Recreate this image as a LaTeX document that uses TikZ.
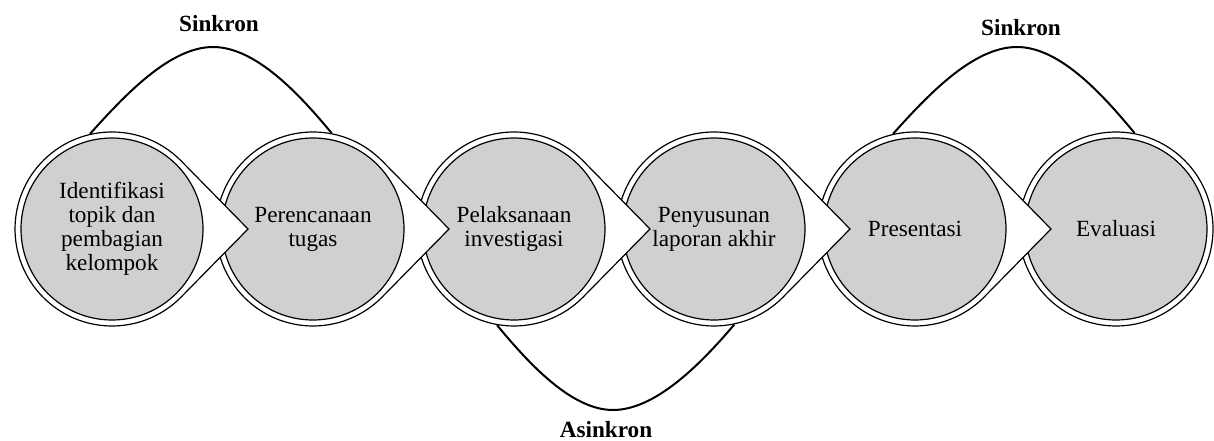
\documentclass[tikz,border=0pt]{standalone}
\usepackage{fontspec}
\setmainfont{Liberation Serif}
\usetikzlibrary{calc}
\definecolor{stepgray}{RGB}{208,208,208}
\begin{document}
\begin{tikzpicture}[x=0.75pt,y=0.75pt,yscale=-1,xscale=1,
  drop/.style={draw, fill=white, line width=0.9pt},
  stepcirc/.style={circle, draw, fill=stepgray, line width=0.9pt, minimum size=136.5pt, inner sep=0pt, align=center, font=\fontsize{17.4}{18}\selectfont},
  link/.style={line width=1.5pt},
  lbl/.style={inner sep=0.75pt, font=\fontsize{17.4}{18}\selectfont\bfseries}]
\useasboundingbox (0,0) rectangle (1214,441);

%Shape: Circle
\draw [drop] (1116,229) circle (97);
% Text Node
\node [stepcirc] (c6) at (1116,229) {Evaluasi};

%Shape: Teardrop
\draw [drop] (1051,229) -- (984.2,161) arc [start angle=-44.5, end angle=-315.5, radius=97] -- cycle;
% Text Node
\node [stepcirc] (c5) at (915,229) {Presentasi};

%Shape: Teardrop
\draw [drop] (850,229) -- (783.2,161) arc [start angle=-44.5, end angle=-315.5, radius=97] -- cycle;
% Text Node
\node [stepcirc] (c4) at (714,229) {Penyusunan\\laporan akhir};

%Shape: Teardrop
\draw [drop] (650,229) -- (583.2,161) arc [start angle=-44.5, end angle=-315.5, radius=97] -- cycle;
% Text Node
\node [stepcirc] (c3) at (514,229) {Pelaksanaan\\investigasi};

%Shape: Teardrop
\draw [drop] (449,229) -- (382.2,161) arc [start angle=-44.5, end angle=-315.5, radius=97] -- cycle;
% Text Node
\node [stepcirc] (c2) at (313,229) {Perencanaan\\tugas};

%Shape: Teardrop
\draw [drop] (248,229) -- (181.2,161) arc [start angle=-44.5, end angle=-315.5, radius=97] -- cycle;
% Text Node
\node [stepcirc] (c1) at (112,229) {Identifikasi\\topik dan\\pembagian\\kelompok};

%Curve Lines
\draw [link] ($(c1)!1.066!(c1.103)$) .. controls (125,95) and (170,47) .. (213,47) .. controls (256,47) and (300,95) .. ($(c2)!1.066!(c2.79)$);
%Curve Lines
\draw [link] ($(c5)!1.066!(c5.103)$) .. controls (928,95) and (973,47) .. (1017,47) .. controls (1060,47) and (1103,95) .. ($(c6)!1.066!(c6.79)$);
%Curve Lines
\draw [link] ($(c3)!1.066!(c3.260)$) .. controls (530,365) and (572,410) .. (613,410) .. controls (655,410) and (700,365) .. ($(c4)!1.066!(c4.282)$);

% Text Node
\node [lbl] (sync1) at (219,24) {Sinkron};
% Text Node
\node [lbl] (sync2) at (1021,28) {Sinkron};
% Text Node
\node [lbl] (async) at (606,430) {Asinkron};

\end{tikzpicture}
\end{document}
